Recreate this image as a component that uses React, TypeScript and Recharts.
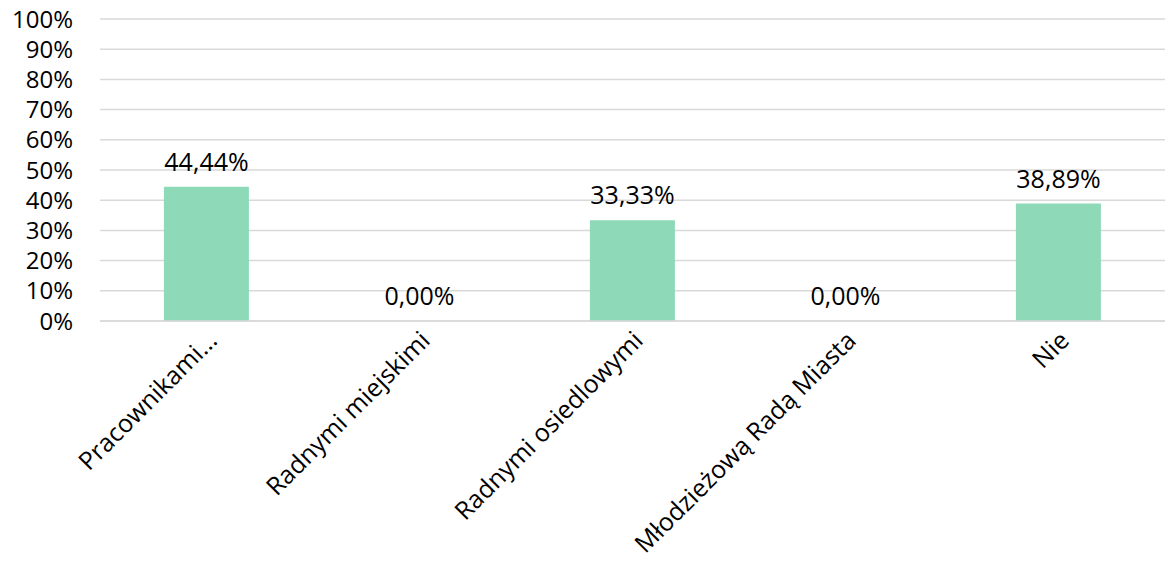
import React from 'react';
import { ComposedChart, Bar, Line, XAxis, YAxis, CartesianGrid, LabelList } from 'recharts';

const categories = ['Pracownikami...', 'Radnymi miejskimi', 'Radnymi osiedlowymi', 'Młodzieżową Radą Miasta', 'Nie'];
const values = [44.44, 0, 33.33, 0, 38.89];
const yTicks = [0, 10, 20, 30, 40, 50, 60, 70, 80, 90, 100];

const data = categories.map((name, i) => ({ name, value: values[i] }));

const FONT = '"Open Sans", sans-serif';

const CatTick = (props: any) => {
  const { x, y, payload } = props;
  const ax = x + 5;
  const ay = y + 6;
  return (
    <text
      x={ax}
      y={ay}
      textAnchor="end"
      dominantBaseline="central"
      transform={`rotate(-45, ${ax}, ${ay})`}
      fontSize={25}
      fontFamily={FONT}
      fill="#000"
    >
      {payload.value}
    </text>
  );
};

const fmt = (v: any) => `${Number(v).toFixed(2).replace('.', ',')}%`;

export default function App() {
  return (
    <div style={{ position: 'absolute', left: 0, top: 0, background: '#fff' }}>
      <ComposedChart
        width={1168}
        height={569}
        data={data}
        margin={{ top: 19, right: 3, bottom: 0, left: 0 }}
        barCategoryGap="30%"
      >
        <CartesianGrid vertical={false} stroke="#d9d9d9" strokeWidth={1.5} />
        <YAxis
          domain={[0, 100]}
          ticks={yTicks}
          width={100}
          axisLine={false}
          tickLine={false}
          tickSize={0}
          tickMargin={27}
          interval={0}
          tickFormatter={(v: number) => `${v}%`}
          tick={{ fontSize: 24, fontFamily: FONT, fill: '#000' }}
        />
        <XAxis
          dataKey="name"
          height={248}
          interval={0}
          axisLine={{ stroke: '#d9d9d9', strokeWidth: 1.5 }}
          tickLine={false}
          tick={<CatTick />}
        />
        <Bar dataKey="value" fill="#8ed9b8" isAnimationActive={false} />
        <Line
          dataKey="value"
          stroke="none"
          dot={false}
          activeDot={false}
          isAnimationActive={false}
        >
          <LabelList
            dataKey="value"
            position="top"
            offset={16}
            formatter={fmt}
            style={{ fontSize: 25, fontFamily: FONT, fill: '#000' }}
          />
        </Line>
      </ComposedChart>
    </div>
  );
}
